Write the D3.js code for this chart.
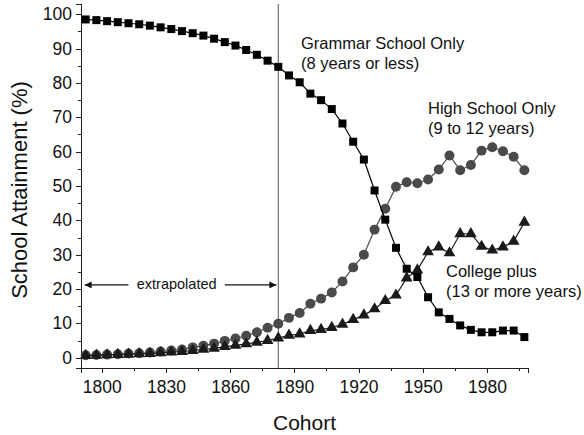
<!DOCTYPE html>
<html lang="en">
<head>
	<meta charset="utf-8">
	<title>School Attainment by Cohort</title>
	<style>
		body { margin: 0; background: #fff; }
		svg text { font-family: "Liberation Sans", Arial, sans-serif; fill: #111; }
		.axis path, .axis line { stroke: #222; stroke-width: 1; shape-rendering: crispEdges; }
		.axis text { font-size: 17.5px; }
	</style>
</head>
<body>
	<div id="chart"></div>

	<script src="https://cdn.jsdelivr.net/npm/d3@7"></script>
	<script>
		// cohort years (5-year midpoints)
		var years = [1792.5, 1797.5, 1802.5, 1807.5, 1812.5, 1817.5, 1822.5, 1827.5, 1832.5, 1837.5,
			1842.5, 1847.5, 1852.5, 1857.5, 1862.5, 1867.5, 1872.5, 1877.5, 1882.5, 1887.5,
			1892.5, 1897.5, 1902.5, 1907.5, 1912.5, 1917.5, 1922.5, 1927.5, 1932.5, 1937.5,
			1942.5, 1947.5, 1952.5, 1957.5, 1962.5, 1967.5, 1972.5, 1977.5, 1982.5, 1987.5,
			1992.5, 1997.5];

		var grammar = [98.5, 98.3, 98.0, 97.7, 97.4, 97.1, 96.7, 96.2, 95.7, 95.1,
			94.5, 93.8, 92.9, 91.9, 90.9, 89.6, 88.2, 86.5, 84.7, 82.2,
			80.2, 76.9, 75.0, 72.4, 68.2, 62.9, 57.7, 48.7, 40.2, 32.0,
			25.9, 23.5, 17.6, 13.2, 11.3, 9.4, 8.1, 7.4, 7.4, 7.9,
			7.9, 6.0];

		var highSchool = [0.7, 0.8, 0.9, 1.0, 1.2, 1.3, 1.5, 1.8, 2.1, 2.4,
			3.0, 3.5, 4.1, 4.9, 5.6, 6.4, 7.4, 8.7, 9.9, 11.6,
			13.0, 15.7, 17.2, 19.0, 22.2, 26.3, 30.0, 37.3, 43.4, 49.8,
			51.1, 50.8, 51.9, 54.8, 58.9, 54.6, 56.1, 60.3, 61.3, 60.1,
			58.5, 54.6];

		var college = [0.6, 0.7, 0.8, 0.9, 1.0, 1.1, 1.2, 1.4, 1.6, 1.8,
			2.1, 2.4, 2.7, 3.2, 3.6, 4.0, 4.5, 5.0, 5.7, 6.5,
			6.9, 7.9, 8.2, 8.8, 9.7, 11.1, 12.4, 14.2, 16.6, 18.2,
			23.2, 25.5, 30.8, 32.2, 30.5, 36.1, 36.1, 32.4, 31.3, 32.2,
			33.9, 39.4];

		var xTicks = [1800, 1830, 1860, 1890, 1920, 1950, 1980];
		var xMinor = [1815, 1845, 1875, 1905, 1935, 1965, 1995];
		var yTicks = [0, 10, 20, 30, 40, 50, 60, 70, 80, 90, 100];
		var yMinor = [5, 15, 25, 35, 45, 55, 65, 75, 85, 95];
		var extrapolatedEnd = 1882.5;

		var width = 584,
		    height = 435;

		var svg = d3.select("#chart")
			.append("svg")
			.attr("width", width)
			.attr("height", height);

		var x = d3.scaleLinear().domain([1790.3, 1999.2]).range([81, 528]);
		var y = d3.scaleLinear().domain([-3, 103]).range([368, 4]);

		// axes
		svg.append("g")
			.attr("class", "axis")
			.attr("transform", "translate(0," + y.range()[0] + ")")
			.call(d3.axisBottom(x).tickValues(xTicks).tickFormat(d3.format("d")).tickSizeOuter(0).tickSize(5).tickPadding(8));

		svg.append("g")
			.attr("class", "axis")
			.attr("transform", "translate(0," + y.range()[0] + ")")
			.call(d3.axisBottom(x).tickValues(xMinor).tickFormat("").tickSizeOuter(0).tickSize(3))
			.select(".domain").remove();

		svg.append("g")
			.attr("class", "axis")
			.attr("transform", "translate(" + x.range()[0] + ",0)")
			.call(d3.axisLeft(y).tickValues(yTicks).tickSizeOuter(0).tickSize(5).tickPadding(4));

		svg.append("g")
			.attr("class", "axis")
			.attr("transform", "translate(" + x.range()[0] + ",0)")
			.call(d3.axisLeft(y).tickValues(yMinor).tickFormat("").tickSizeOuter(0).tickSize(3))
			.select(".domain").remove();

		svg.selectAll(".axis .tick text").attr("fill", "#111");

		// axis titles
		svg.append("text")
			.attr("x", (x.range()[0] + x.range()[1]) / 2)
			.attr("y", 430)
			.attr("text-anchor", "middle")
			.style("font-size", "21px")
			.text("Cohort");

		svg.append("text")
			.attr("transform", "translate(27," + ((y.range()[0] + y.range()[1]) / 2 + 4) + ") rotate(-90)")
			.attr("text-anchor", "middle")
			.style("font-size", "22px")
			.text("School Attainment (%)");

		// vertical divider
		svg.append("line")
			.attr("x1", x(extrapolatedEnd)).attr("x2", x(extrapolatedEnd))
			.attr("y1", y.range()[1]).attr("y2", y.range()[0])
			.attr("stroke", "#555")
			.attr("stroke-width", 1);

		// extrapolated arrow
		svg.append("defs").append("marker")
			.attr("id", "arrow")
			.attr("viewBox", "0 0 10 10")
			.attr("refX", 10).attr("refY", 5)
			.attr("markerWidth", 10).attr("markerHeight", 7)
			.attr("markerUnits", "userSpaceOnUse")
			.attr("orient", "auto-start-reverse")
			.append("path")
			.attr("d", "M0,0L10,5L0,10z")
			.attr("fill", "#111");

		var arrowY = y(21.2);
		svg.append("line")
			.attr("x1", x(1792)).attr("x2", x(1812.5))
			.attr("y1", arrowY).attr("y2", arrowY)
			.attr("stroke", "#111").attr("stroke-width", 1.2)
			.attr("marker-start", "url(#arrow)");
		svg.append("line")
			.attr("x1", x(1857.5)).attr("x2", x(1881.6))
			.attr("y1", arrowY).attr("y2", arrowY)
			.attr("stroke", "#111").attr("stroke-width", 1.2)
			.attr("marker-end", "url(#arrow)");
		svg.append("text")
			.attr("x", (x(1812.5) + x(1857.5)) / 2)
			.attr("y", arrowY + 4.5)
			.attr("text-anchor", "middle")
			.style("font-size", "14.5px")
			.text("extrapolated");

		var line = d3.line()
			.x(function(d) { return x(d[0]); })
			.y(function(d) { return y(d[1]); });

		function series(values, color, symbol, size, lineColor) {
			var pts = years.map(function(yr, i) { return [yr, values[i]]; });
			svg.append("path")
				.datum(pts)
				.attr("fill", "none")
				.attr("stroke", lineColor)
				.attr("stroke-width", 1.2)
				.attr("d", line);
			svg.append("g")
				.selectAll("path")
				.data(pts)
				.enter().append("path")
				.attr("transform", function(d) { return "translate(" + x(d[0]) + "," + y(d[1]) + ")"; })
				.attr("d", d3.symbol().type(symbol).size(size))
				.attr("fill", color);
		}

		series(highSchool, "#4a4a4a", d3.symbolCircle, 78, "#4a4a4a");
		series(college, "#1a1a1a", d3.symbolTriangle, 60, "#1a1a1a");
		series(grammar, "#000", d3.symbolSquare, 64, "#000");

		// series labels
		function label(lines, px, py) {
			var t = svg.append("text")
				.attr("x", px).attr("y", py)
				.style("font-size", "16.5px");
			lines.forEach(function(s, i) {
				t.append("tspan").attr("x", px).attr("dy", i === 0 ? 0 : 20).text(s);
			});
		}

		label(["Grammar School Only", "(8 years or less)"], 301, 49);
		label(["High School Only", "(9 to 12 years)"], 428, 114);
		label(["College plus", "(13 or more years)"], 446, 277);
	</script>
</body>
</html>
